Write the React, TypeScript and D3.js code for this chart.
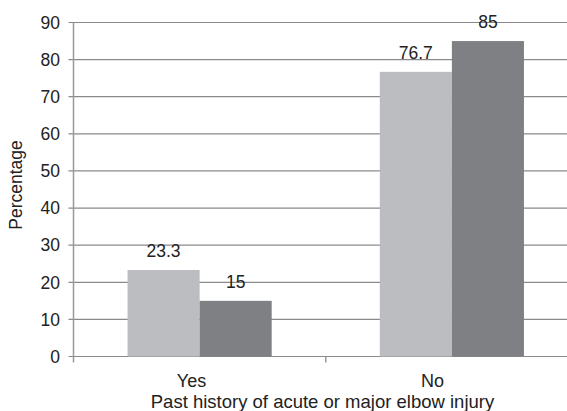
import React from "react";
import * as d3 from "d3";

const categories = ["Yes", "No"];
const seriesA = [23.3, 76.7];
const seriesB = [15, 85];
const yTicks = [0, 10, 20, 30, 40, 50, 60, 70, 80, 90];
const yTitle = "Percentage";
const xTitle = "Past history of acute or major elbow injury";

const W = 567;
const H = 411;
const left = 73.5;
const right = 578;
const top = 22.5;
const bottom = 356.5;

const FONT = "'Liberation Sans', Arial, sans-serif";

export default function App() {
  const x = d3.scaleBand<string>().domain(categories).range([left, right]);
  const xLabel = d3.scaleBand<string>().domain(categories).range([71, 553]);
  const inner = d3
    .scaleBand<string>()
    .domain(["a", "b"])
    .range([0, x.bandwidth()])
    .paddingInner(0)
    .paddingOuter(0.75);
  const y = d3.scaleLinear().domain([0, 90]).range([bottom, top]);

  const series = [
    { key: "a", values: seriesA, color: "#bcbdc0" },
    { key: "b", values: seriesB, color: "#7f8083" },
  ];

  return (
    <svg
      width={W}
      height={H}
      style={{ position: "absolute", left: 0, top: 0, background: "#fff" }}
      fontFamily={FONT}
    >
      {/* horizontal gridlines */}
      {yTicks.map((t) => (
        <line
          key={"g" + t}
          x1={left - 5}
          x2={W}
          y1={y(t)}
          y2={y(t)}
          stroke="#8a8a8a"
          strokeWidth={1.2}
        />
      ))}
      {/* y-axis tick labels */}
      {yTicks.map((t) => (
        <text
          key={"t" + t}
          x={60}
          y={y(t)}
          dy="0.36em"
          textAnchor="end"
          fontSize={17.5}
          fill="#222"
        >
          {t}
        </text>
      ))}
      {/* bars */}
      {series.map((s) =>
        categories.map((c, i) => {
          const bx = (x(c) ?? 0) + (inner(s.key) ?? 0);
          return (
            <rect
              key={s.key + c}
              x={bx}
              y={y(s.values[i])}
              width={inner.bandwidth()}
              height={y(0) - y(s.values[i])}
              fill={s.color}
            />
          );
        })
      )}
      {/* y axis line */}
      <line x1={left} x2={left} y1={top} y2={bottom + 6} stroke="#999" strokeWidth={1.5} />
      {/* category separator ticks */}
      {categories.map((c) => (
        <line
          key={"xt" + c}
          x1={(x(c) ?? 0) + x.bandwidth()}
          x2={(x(c) ?? 0) + x.bandwidth()}
          y1={bottom}
          y2={bottom + 6}
          stroke="#999"
          strokeWidth={1.5}
        />
      ))}
      {/* value labels */}
      {series.map((s) =>
        categories.map((c, i) => (
          <text
            key={"v" + s.key + c}
            x={(x(c) ?? 0) + (inner(s.key) ?? 0) + inner.bandwidth() / 2}
            y={y(s.values[i]) - 13}
            textAnchor="middle"
            fontSize={17.5}
            fill="#222"
          >
            {s.values[i]}
          </text>
        ))
      )}
      {/* category labels */}
      {categories.map((c) => (
        <text
          key={"c" + c}
          x={(xLabel(c) ?? 0) + xLabel.bandwidth() / 2}
          y={387}
          textAnchor="middle"
          fontSize={18}
          fill="#222"
        >
          {c}
        </text>
      ))}
      <text x={322.5} y={408} textAnchor="middle" fontSize={18.5} fill="#222">
        {xTitle}
      </text>
      <text
        transform={`translate(22,185) rotate(-90)`}
        textAnchor="middle"
        fontSize={17.5}
        fill="#222"
      >
        {yTitle}
      </text>
    </svg>
  );
}
